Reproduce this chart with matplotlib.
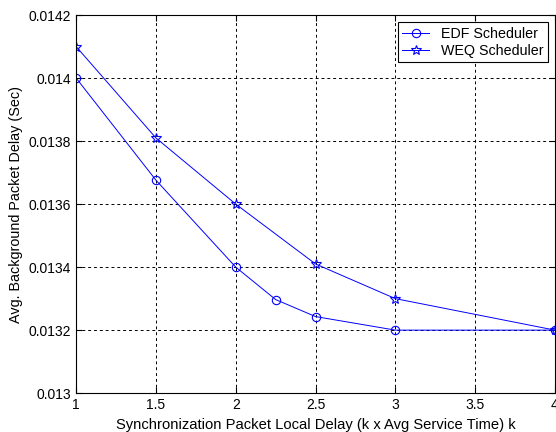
import matplotlib
matplotlib.use("Agg")
import matplotlib.pyplot as plt

plt.rcParams["font.family"] = ["Liberation Sans", "DejaVu Sans"]

k_edf = [1, 1.5, 2, 2.25, 2.5, 3, 4]
delay_edf = [0.01400, 0.013676, 0.01340, 0.013297, 0.013243, 0.01320, 0.01320]

k_weq = [1, 1.5, 2, 2.5, 3, 4]
delay_weq = [0.01410, 0.013810, 0.01360, 0.013410, 0.013300, 0.01320]

xticks = [1, 1.5, 2, 2.5, 3, 3.5, 4]
yticks = [0.013, 0.0132, 0.0134, 0.0136, 0.0138, 0.014, 0.0142]
ytick_labels = ["0.013", "0.0132", "0.0134", "0.0136", "0.0138", "0.014", "0.0142"]

fig = plt.figure(figsize=(5.56, 4.32), dpi=100)
ax = fig.add_axes([0.137, 0.090, 0.861, 0.875])

ax.plot(k_edf, delay_edf, color="#0000ff", lw=0.7, marker="o", ms=6,
        mfc="none", mew=0.8, label="EDF Scheduler")
ax.plot(k_weq, delay_weq, color="#0000ff", lw=0.7, marker="*", ms=7,
        mfc="none", mew=0.8, label="WEQ Scheduler")

ax.set_xlim(1, 4)
ax.set_ylim(0.013, 0.0142)
ax.set_xticks(xticks)
ax.set_xticklabels([f"{x:g}" for x in xticks])
ax.set_yticks(yticks)
ax.set_yticklabels(ytick_labels)
ax.tick_params(direction="in", labelsize=10, top=True, right=True, length=4)
ax.grid(True, color="black", linestyle=(0, (3, 3)), lw=0.7)

for s in ax.spines.values():
    s.set_linewidth(0.8)

ax.set_xlabel("Synchronization Packet Local Delay (k x Avg Service Time) k",
              fontsize=10.6, labelpad=4)
ax.set_ylabel("Avg. Background Packet Delay (Sec)", fontsize=10.4, labelpad=4)

leg = ax.legend(loc="upper right", fontsize=10.3, fancybox=False, framealpha=1,
                edgecolor="black", borderaxespad=0.5, handlelength=1.9,
                borderpad=0.3, labelspacing=0.25)
leg.get_frame().set_linewidth(0.8)

fig.savefig("out.png", dpi=100)
